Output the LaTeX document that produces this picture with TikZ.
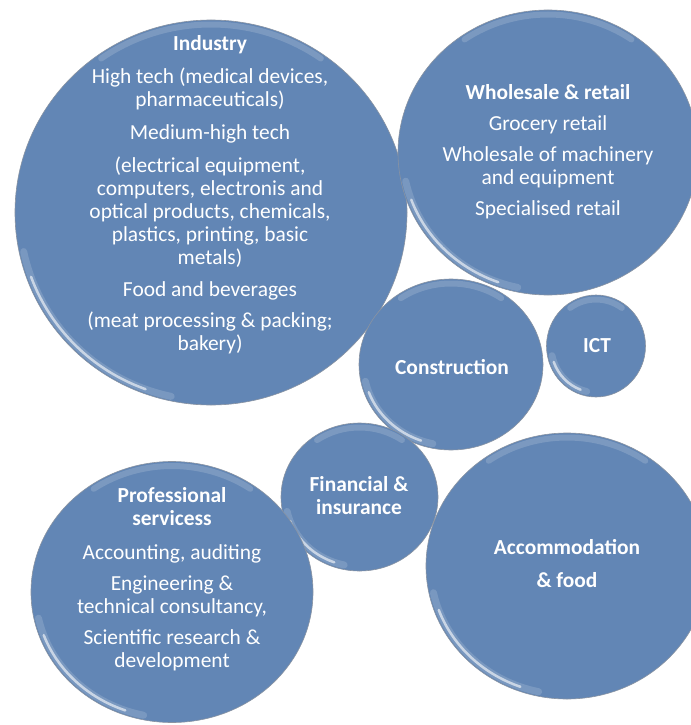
\documentclass[tikz,border=0pt]{standalone}
\usepackage{fontspec}
\setmainfont{Carlito}
\usetikzlibrary{shapes.geometric, positioning}
\definecolor{cbubble}{HTML}{6286B5}
\definecolor{crim}{HTML}{56657A}
\tikzset{
  every picture/.style={x=1bp, y=1bp, line width=0.6bp},
  bubble/.style 2 args={ellipse, draw=crim!70, fill=cbubble, inner sep=0pt, minimum width=#1, minimum height=#2},
  glow/.style={draw=white, line width=2.5bp, line cap=round, opacity=0.6},
  haze/.style={draw=white, line width=7bp, line cap=round, opacity=0.15},
  shine/.style={draw=white, line width=6bp, line cap=round, opacity=0.16},
  txt/.style={text=white, align=center, font=\fontsize{21.5}{23}\selectfont},
}
\begin{document}
\begin{tikzpicture}
  \fill[white] (0,0) rectangle (691,-725);
  \useasboundingbox (0,0) rectangle (691,-725);
  \clip (0,0) rectangle (691,-725);
  % bubbles, with the gloss along the rim
  \foreach \n/\x/\y/\a/\b in {ind/211/212.5/196/192.5, whl/548/152.5/150/142.5, con/451/364.5/92/85.5,
                              ict/596/346/49.5/51, fin/359.5/497/78.5/74, acc/567/566/141/133, pro/172/592/141/130.5} {
    \node[bubble={2*\a bp}{2*\b bp}] (\n) at (\x,-\y) {};
    \pgfmathsetmacro{\ra}{\a-4.5}
    \pgfmathsetmacro{\rb}{\b-4.5}
    \draw[haze] (\n.center) ++(192:\ra bp and \rb bp) arc[start angle=192, end angle=258, x radius=\ra bp, y radius=\rb bp];
    \draw[glow] (\n.center) ++(200:\ra bp and \rb bp) arc[start angle=200, end angle=250, x radius=\ra bp, y radius=\rb bp];
    \draw[shine] (\n.center) ++(55:\ra bp and \rb bp) arc[start angle=55, end angle=125, x radius=\ra bp, y radius=\rb bp];
  }
  \node[txt] (indtxt) at (210,-195) {\textbf{Industry}\\[10bp]
    High tech (medical devices,\\ pharmaceuticals)\\[10bp]
    Medium-high tech\\[10bp]
    (electrical equipment,\\ computers, electronis and\\ optical products, chemicals,\\ plastics, printing, basic\\ metals)\\[10bp]
    Food and beverages\\[8bp]
    (meat processing \& packing;\\ bakery)};
  \node[txt] (whltxt) at (548,-152) {\textbf{Wholesale \& retail}\\[8bp]
    Grocery retail\\[8bp]
    Wholesale of machinery\\ and equipment\\[8bp]
    Specialised retail};
  \node[txt] (contxt) at (452,-367) {\textbf{Construction}};
  \node[txt] (icttxt) at (597,-346) {\textbf{ICT}};
  \node[txt] (fintxt) at (359,-496) {\textbf{Financial \&}\\ \textbf{insurance}};
  \node[txt] (acctxt) at (567,-563.5) {\textbf{Accommodation}\\[10bp] \textbf{\& food}};
  \node[txt] (protxt) at (172,-579) {\textbf{Professional}\\ \textbf{servicess}\\[11bp]
    Accounting, auditing\\[8bp]
    Engineering \&\\ technical consultancy,\\[8bp]
    Scientific research \&\\ development};
\end{tikzpicture}
\end{document}
